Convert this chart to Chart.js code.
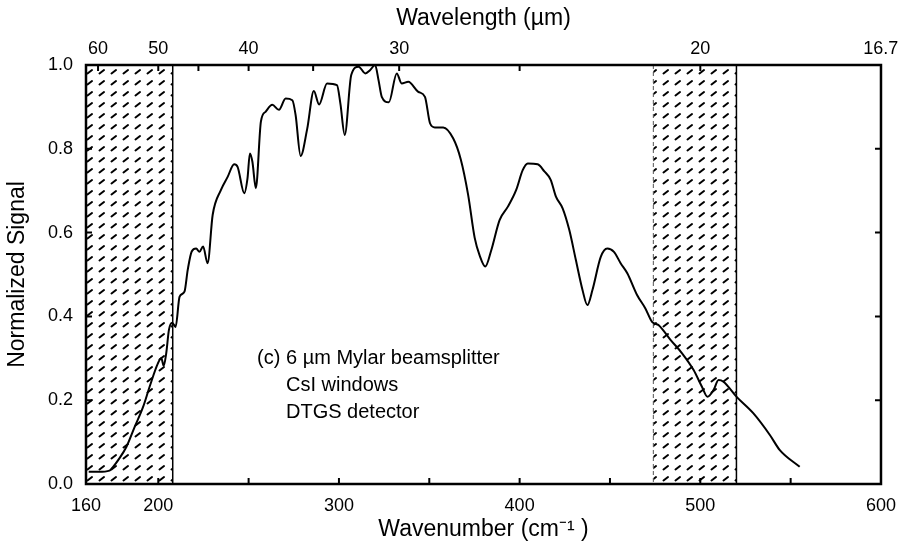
<!DOCTYPE html>
<html>
<head>
<meta charset="utf-8">
<script src="https://cdn.jsdelivr.net/npm/chart.js@4"></script>
<style>
  html, body { margin: 0; padding: 0; background: #fff; }
  #wrap { width: 907px; height: 546px; position: relative; }
</style>
</head>
<body>
<div id="wrap"><canvas id="c"></canvas></div>
<script>
// ---- data ----
const wavenumber = [161.5,167,173,175,177.8,182.4,187,191.6,195.2,199.8,201.7,203,204.4,205.9,207.7,209.6,211.8,214.5,216.3,218.5,221,222.8,224.8,227.3,230.1,234.7,238.4,242,243.9,247.6,249.4,250.7,252.1,254,256.8,259.5,263.1,266.8,270.5,274.2,276,278.8,282.4,286.1,289,293.4,298.9,300.8,303.2,306.8,310.9,314.6,317.3,320,321.9,323.7,327.6,332,334.7,338.4,343.9,347.6,350.4,353.1,357.7,363.2,367.4,371.5,375.1,377.9,381,384.3,388.9,393.5,398.1,401.7,404.5,410,413.7,417.2,420.1,423.8,427.5,431.1,434.8,437.5,440.3,444.9,448.5,452.2,455.9,459.6,465,469.6,473.3,477,483.5,489.9,496.3,500.9,504,507.3,510.1,512.8,520.1,529.3,538.5,544,555];
const signal = [0.029,0.029,0.032,0.041,0.057,0.089,0.137,0.184,0.232,0.288,0.300,0.282,0.312,0.368,0.385,0.375,0.447,0.459,0.511,0.555,0.562,0.554,0.567,0.527,0.642,0.702,0.733,0.763,0.757,0.694,0.730,0.789,0.769,0.706,0.865,0.889,0.905,0.893,0.920,0.916,0.881,0.783,0.847,0.938,0.906,0.956,0.952,0.908,0.833,0.976,0.996,0.980,0.988,1.0,0.964,0.924,0.911,0.980,0.956,0.960,0.936,0.924,0.861,0.851,0.851,0.825,0.775,0.690,0.588,0.545,0.519,0.558,0.630,0.662,0.702,0.749,0.765,0.763,0.746,0.726,0.686,0.658,0.606,0.535,0.463,0.427,0.463,0.542,0.562,0.554,0.527,0.503,0.451,0.419,0.387,0.379,0.344,0.312,0.272,0.232,0.208,0.224,0.248,0.244,0.208,0.169,0.117,0.081,0.041];

const bottomTicks = [160,200,250,300,350,400,450,500,550,600];
const bottomLabels = ['160','200','','300','','400','','500','','600'];
const wavelengthTicks = [60,50,45,40,35,30,25,20,16.67];
const wavelengthLabels = ['60','50','','40','','30','','20','16.7'];
const yTicks = [0,0.2,0.4,0.6,0.8,1.0];
const yLabels = ['0.0','0.2','0.4','0.6','0.8','1.0'];
const hatchBands = [[160,208],[474,520]];
const noteLines = ['(c) 6 \u00b5m Mylar beamsplitter','CsI windows','DTGS detector'];

// ---- styling ----
const FONT = "'Liberation Sans', Arial, Helvetica, sans-serif";

function makeHatch(ctx) {
  const c = document.createElement('canvas');
  c.width = 12; c.height = 11;
  const g = c.getContext('2d');
  g.strokeStyle = '#000';
  g.lineWidth = 2;
  g.lineCap = 'round';
  g.beginPath();
  g.moveTo(3.5, 7.5);
  g.lineTo(8, 4);
  g.stroke();
  return ctx.createPattern(c, 'repeat');
}

const decor = {
  id: 'decor',
  beforeDatasetsDraw(chart) {
    const {ctx, chartArea: a, scales: {x}} = chart;
    ctx.save();
    const pat = makeHatch(ctx);
    hatchBands.forEach(([s, e], i) => {
      const x0 = x.getPixelForValue(s), x1 = x.getPixelForValue(e);
      ctx.fillStyle = pat;
      ctx.fillRect(x0, a.top, x1 - x0, a.bottom - a.top);
      ctx.strokeStyle = '#000';
      ctx.lineWidth = 1.5;
      ctx.setLineDash([]);
      ctx.beginPath(); ctx.moveTo(x1, a.top); ctx.lineTo(x1, a.bottom); ctx.stroke();
      if (i > 0) {
        ctx.strokeStyle = '#555';
        ctx.lineWidth = 1;
        ctx.setLineDash([4, 3]);
        ctx.beginPath(); ctx.moveTo(x0, a.top); ctx.lineTo(x0, a.bottom); ctx.stroke();
        ctx.setLineDash([]);
      }
    });
    ctx.restore();
  },
  afterDatasetsDraw(chart) {
    const {ctx, chartArea: a, scales: {x, y, x2}} = chart;
    ctx.save();
    ctx.strokeStyle = '#000';
    ctx.lineWidth = 2.5;
    ctx.strokeRect(a.left, a.top, a.right - a.left, a.bottom - a.top);
    ctx.lineWidth = 2;
    const L = 6;
    ctx.beginPath();
    bottomTicks.forEach(v => {
      if (v <= 160 || v >= 600) return;
      const px = x.getPixelForValue(v);
      ctx.moveTo(px, a.bottom); ctx.lineTo(px, a.bottom - L);
    });
    wavelengthTicks.forEach(l => {
      const v = 10000 / l;
      if (v <= 161 || v >= 599) return;
      const px = x2.getPixelForValue(v);
      ctx.moveTo(px, a.top); ctx.lineTo(px, a.top + L);
    });
    yTicks.forEach(v => {
      if (v <= 0 || v >= 1) return;
      const py = y.getPixelForValue(v);
      ctx.moveTo(a.left, py); ctx.lineTo(a.left + L, py);
      ctx.moveTo(a.right, py); ctx.lineTo(a.right - L, py);
    });
    ctx.stroke();
    ctx.fillStyle = '#000';
    ctx.font = '20px ' + FONT;
    ctx.textBaseline = 'middle';
    ctx.textAlign = 'left';
    const tx = x.getPixelForValue(254.7);
    const indent = ctx.measureText('(c) ').width;
    const ty = y.getPixelForValue(0.30);
    noteLines.forEach((t, i) => {
      ctx.fillText(t, tx + (i ? indent : 0), ty + i * 27);
    });
    ctx.restore();
  }
};

const tickFont = {family: FONT, size: 18};
const titleFont = {family: FONT, size: 23};

new Chart(document.getElementById('c'), {
  type: 'line',
  data: {
    datasets: [{
      data: wavenumber.map((w, i) => ({x: w, y: signal[i]})),
      borderColor: '#000',
      borderWidth: 2,
      pointRadius: 0,
      fill: false,
      cubicInterpolationMode: 'monotone',
      clip: 2
    }]
  },
  options: {
    responsive: true,
    maintainAspectRatio: false,
    animation: false,
    devicePixelRatio: 1,
    layout: {padding: {left: 0, right: 22, top: 0, bottom: 0}},
    plugins: {legend: {display: false}, tooltip: {enabled: false}},
    scales: {
      x: {
        type: 'linear', position: 'bottom', min: 160, max: 600,
        afterFit(s) { s.height = 62; },
        afterBuildTicks(s) { s.ticks = bottomTicks.map(v => ({value: v})); },
        ticks: {
          autoSkip: false, maxRotation: 0, color: '#000', font: tickFont, padding: 11,
          callback: (v, i) => bottomLabels[i]
        },
        grid: {display: false, drawTicks: false},
        border: {display: false},
        title: {display: true, text: 'Wavenumber (cm\u207b\u00b9 )', color: '#000', font: titleFont, padding: 3}
      },
      x2: {
        type: 'linear', position: 'top', min: 160, max: 600,
        afterFit(s) { s.height = 65; },
        afterBuildTicks(s) { s.ticks = wavelengthTicks.map(l => ({value: 10000 / l})); },
        ticks: {
          autoSkip: false, maxRotation: 0, color: '#000', font: tickFont, padding: 5,
          callback: (v, i) => wavelengthLabels[i]
        },
        grid: {display: false, drawTicks: false},
        border: {display: false},
        title: {display: true, text: 'Wavelength (\u00b5m)', color: '#000', font: titleFont, padding: 5}
      },
      y: {
        type: 'linear', position: 'left', min: 0, max: 1,
        afterFit(s) { s.width = 86; },
        afterBuildTicks(s) { s.ticks = yTicks.map(v => ({value: v})); },
        ticks: {
          color: '#000', font: tickFont, padding: 13,
          callback: (v, i) => yLabels[i]
        },
        grid: {display: false, drawTicks: false},
        border: {display: false},
        title: {display: true, text: 'Normalized Signal', color: '#000', font: titleFont, padding: 4}
      }
    }
  },
  plugins: [decor]
});
</script>
</body>
</html>
